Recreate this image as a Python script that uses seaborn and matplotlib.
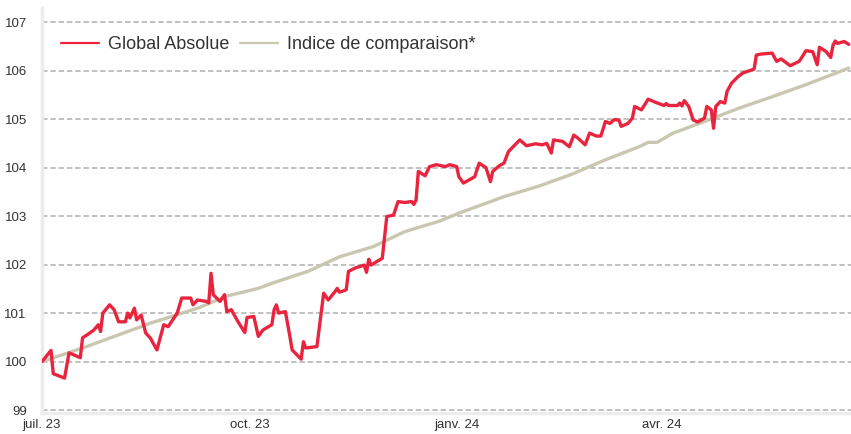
import pandas as pd
import numpy as np
import seaborn as sns
import matplotlib.pyplot as plt
import matplotlib.dates as mdates

# Global Absolue
ga_dates = ['2023-07-01', '2023-07-05', '2023-07-06', '2023-07-11', '2023-07-13', '2023-07-15',
            '2023-07-18', '2023-07-19', '2023-07-21', '2023-07-24', '2023-07-26', '2023-07-27',
            '2023-07-28', '2023-07-31', '2023-08-02', '2023-08-04', '2023-08-07', '2023-08-08',
            '2023-08-09', '2023-08-11', '2023-08-12', '2023-08-14', '2023-08-16', '2023-08-18',
            '2023-08-21', '2023-08-24', '2023-08-26', '2023-08-28', '2023-08-30', '2023-09-01',
            '2023-09-05', '2023-09-06', '2023-09-08', '2023-09-12', '2023-09-13', '2023-09-14',
            '2023-09-15', '2023-09-18', '2023-09-20', '2023-09-21', '2023-09-23', '2023-09-26',
            '2023-09-29', '2023-09-30', '2023-10-03', '2023-10-05', '2023-10-07', '2023-10-11',
            '2023-10-12', '2023-10-13', '2023-10-14', '2023-10-17', '2023-10-19', '2023-10-20',
            '2023-10-24', '2023-10-25', '2023-10-26', '2023-10-31', '2023-11-03', '2023-11-05',
            '2023-11-08', '2023-11-09', '2023-11-10', '2023-11-13', '2023-11-14', '2023-11-17',
            '2023-11-21', '2023-11-22', '2023-11-23', '2023-11-24', '2023-11-29', '2023-12-01',
            '2023-12-04', '2023-12-06', '2023-12-09', '2023-12-12', '2023-12-13', '2023-12-14',
            '2023-12-15', '2023-12-18', '2023-12-20', '2023-12-23', '2023-12-27', '2023-12-29',
            '2024-01-01', '2024-01-02', '2024-01-04', '2024-01-09', '2024-01-11', '2024-01-14',
            '2024-01-16', '2024-01-17', '2024-01-20', '2024-01-22', '2024-01-24', '2024-01-29',
            '2024-02-01', '2024-02-05', '2024-02-08', '2024-02-10', '2024-02-12', '2024-02-13',
            '2024-02-17', '2024-02-20', '2024-02-22', '2024-02-24', '2024-02-27', '2024-02-29',
            '2024-03-03', '2024-03-05', '2024-03-07', '2024-03-09', '2024-03-11', '2024-03-13',
            '2024-03-14', '2024-03-17', '2024-03-19', '2024-03-20', '2024-03-23', '2024-03-26',
            '2024-03-29', '2024-04-02', '2024-04-03', '2024-04-04', '2024-04-08', '2024-04-09',
            '2024-04-10', '2024-04-11', '2024-04-13', '2024-04-15', '2024-04-17', '2024-04-20',
            '2024-04-21', '2024-04-23', '2024-04-24', '2024-04-25', '2024-04-27', '2024-04-29',
            '2024-04-30', '2024-05-02', '2024-05-05', '2024-05-07', '2024-05-12', '2024-05-13',
            '2024-05-15', '2024-05-20', '2024-05-22', '2024-05-24', '2024-05-28', '2024-06-01',
            '2024-06-02', '2024-06-04', '2024-06-07', '2024-06-09', '2024-06-10', '2024-06-13',
            '2024-06-15', '2024-06-16', '2024-06-17', '2024-06-18', '2024-06-21', '2024-06-23']
ga_values = [100.00, 100.23, 99.75, 99.66, 100.18, 100.14,
             100.08, 100.49, 100.55, 100.65, 100.76, 100.62,
             101.00, 101.17, 101.07, 100.82, 100.82, 101.00,
             100.90, 101.10, 100.86, 100.96, 100.59, 100.49,
             100.24, 100.76, 100.72, 100.86, 101.00, 101.31,
             101.31, 101.17, 101.27, 101.24, 101.21, 101.82,
             101.38, 101.24, 101.38, 101.03, 101.07, 100.82,
             100.60, 100.91, 100.93, 100.52, 100.65, 100.76,
             101.07, 101.17, 101.00, 101.03, 100.52, 100.24,
             100.05, 100.41, 100.28, 100.31, 101.41, 101.27,
             101.44, 101.51, 101.43, 101.48, 101.86, 101.93,
             101.99, 101.84, 102.11, 101.99, 102.13, 102.99,
             103.02, 103.30, 103.28, 103.30, 103.24, 103.33,
             103.92, 103.83, 104.02, 104.06, 104.02, 104.06,
             104.02, 103.81, 103.68, 103.81, 104.09, 104.00,
             103.71, 103.92, 104.04, 104.09, 104.33, 104.57,
             104.45, 104.49, 104.47, 104.50, 104.30, 104.57,
             104.54, 104.43, 104.67, 104.60, 104.47, 104.71,
             104.65, 104.65, 104.95, 104.91, 104.99, 104.98,
             104.85, 104.91, 105.02, 105.26, 105.19, 105.41,
             105.35, 105.28, 105.32, 105.28, 105.28, 105.33,
             105.27, 105.38, 105.26, 104.98, 104.94, 105.02,
             105.26, 105.19, 104.81, 105.26, 105.36, 105.33,
             105.57, 105.74, 105.88, 105.95, 106.03, 106.32,
             106.34, 106.36, 106.19, 106.24, 106.10, 106.19,
             106.26, 106.41, 106.39, 106.12, 106.48, 106.39,
             106.27, 106.52, 106.61, 106.56, 106.60, 106.54]

# Indice de comparaison*
idx_dates = ['2023-07-01', '2023-07-19', '2023-08-18', '2023-09-08', '2023-09-21', '2023-10-05',
             '2023-10-12', '2023-10-27', '2023-11-10', '2023-11-25', '2023-12-09', '2023-12-24',
             '2024-01-02', '2024-01-22', '2024-02-06', '2024-02-21', '2024-03-07', '2024-03-22',
             '2024-03-26', '2024-03-30', '2024-04-06', '2024-04-20', '2024-05-05', '2024-05-20',
             '2024-06-04', '2024-06-23']
idx_values = [100.00, 100.28, 100.79, 101.10, 101.35, 101.51,
              101.63, 101.86, 102.16, 102.37, 102.68, 102.89,
              103.06, 103.40, 103.61, 103.86, 104.16, 104.43,
              104.52, 104.52, 104.71, 104.95, 105.22, 105.46,
              105.71, 106.05]

month_ticks = ['2023-07-01', '2023-10-01', '2024-01-01', '2024-04-01']
month_labels = ['juil. 23', 'oct. 23', 'janv. 24', 'avr. 24']

ga_df = pd.DataFrame({'date': pd.to_datetime(ga_dates), 'value': ga_values})
idx_df = pd.DataFrame({'date': pd.to_datetime(idx_dates), 'value': idx_values})

sns.set_style('white')
plt.rcParams['font.family'] = ['Liberation Sans', 'DejaVu Sans']

fig, ax = plt.subplots(figsize=(8.51, 4.34), dpi=100)
fig.subplots_adjust(left=42/851, right=1.0, top=1 - 8/434, bottom=1 - 413/434)

sns.lineplot(data=idx_df, x='date', y='value', ax=ax, color='#C9C7B0', lw=2.4,
             label='Indice de comparaison*', zorder=3)
sns.lineplot(data=ga_df, x='date', y='value', ax=ax, color='#E8243F', lw=2.4,
             label='Global Absolue', zorder=4)

ax.set_ylim(98.94, 107.29)
ax.set_yticks(range(99, 108))
ax.set_xlim(pd.Timestamp('2023-07-01'), pd.Timestamp('2024-06-24'))
ax.set_xticks(pd.to_datetime(month_ticks))
ax.set_xticklabels(month_labels)
ax.set_xlabel('')
ax.set_ylabel('')

ax.yaxis.grid(True, color='#BBBBBB', lw=1.3, linestyle=(0, (3, 1.6)))
ax.xaxis.grid(False)
ax.set_axisbelow(True)
for s in ['top', 'right']:
    ax.spines[s].set_visible(False)
for s in ['left', 'bottom']:
    ax.spines[s].set_color('#ECECEC')
    ax.spines[s].set_linewidth(2.5)
ax.tick_params(axis='both', length=0, labelsize=9.5, colors='#333333')
ax.tick_params(axis='y', pad=11)
ax.tick_params(axis='x', pad=4)

handles, labels = ax.get_legend_handles_labels()
order = [1, 0]
leg = ax.legend([handles[i] for i in order], [labels[i] for i in order], ncol=2, frameon=False,
                loc='upper left', bbox_to_anchor=(0.003, 0.97), fontsize=13, handlelength=2.1,
                columnspacing=0.6, handletextpad=0.5, labelcolor='#333333')
for line in leg.get_lines():
    line.set_linewidth(1.6)

plt.savefig('out.png', dpi=100)
